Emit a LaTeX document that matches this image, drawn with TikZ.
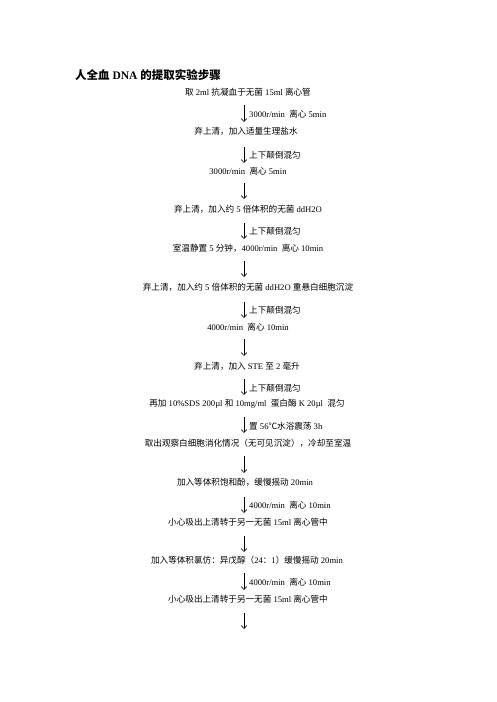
\documentclass[tikz,border=0pt]{standalone}
\usepackage{fontspec}
\setmainfont{Liberation Serif}
\newfontfamily\cjk{Noto Sans CJK SC}
\usetikzlibrary{arrows.meta}
\newcommand\zh[1]{{\cjk #1}}
\tikzset{
  stepnode/.style={inner sep=0pt, anchor=center, font=\fontsize{8.6}{10}\selectfont},
  lbl/.style={inner sep=0pt, anchor=west, font=\fontsize{8.6}{10}\selectfont},
  flow/.style={-{Straight Barb[length=3pt,width=5.5pt]}, line width=0.6pt},
  titlenode/.style={inner sep=0pt, anchor=west, font=\fontsize{11.5}{13}\selectfont\bfseries}
}
\begin{document}
\begin{tikzpicture}[x=1pt,y=1pt]
\useasboundingbox (0,0) rectangle (496,-702);
\fill[white] (0,0) rectangle (496,-702);
\node[titlenode] (title) at (75,-75) {\zh{\bfseries 人全血} DNA \zh{\bfseries 的提取实验步骤}};

\node[stepnode] (s1) at (248,-92) {\zh{取} 2ml \zh{抗凝血于无菌} 15ml \zh{离心管}};
\node[stepnode] (s2) at (246,-131) {\zh{弃上清，加入适量生理盐水}};
\node[stepnode] (s3) at (248,-171) {3000r/min\ \ \zh{离心} 5min};
\node[stepnode] (s4) at (248,-209) {\zh{弃上清，加入约} 5 \zh{倍体积的无菌} ddH2O};
\node[stepnode] (s5) at (248,-248) {\zh{室温静置} 5 \zh{分钟，}4000r/min\ \ \zh{离心} 10min};
\node[stepnode] (s6) at (248,-287) {\zh{弃上清，加入约} 5 \zh{倍体积的无菌} ddH2O \zh{重悬白细胞沉淀}};
\node[stepnode] (s7) at (248,-327) {4000r/min\ \ \zh{离心} 10min};
\node[stepnode] (s8) at (247,-366) {\zh{弃上清，加入} STE \zh{至} 2 \zh{毫升}};
\node[stepnode] (s9) at (247,-404) {\zh{再加} 10\%SDS 200µl \zh{和} 10mg/ml\ \ \zh{蛋白酶} K 20µl\ \ \zh{混匀}};
\node[stepnode] (s10) at (248,-443) {\zh{取出观察白细胞消化情况（无可见沉淀），冷却至室温}};
\node[stepnode] (s11) at (245,-482) {\zh{加入等体积饱和酚，缓慢摇动} 20min};
\node[stepnode] (s12) at (248,-522) {\zh{小心吸出上清转于另一无菌} 15ml \zh{离心管中}};
\node[stepnode] (s13) at (247,-560) {\zh{加入等体积氯仿：异戊醇（}24\zh{：}1\zh{）缓慢摇动} 20min};
\node[stepnode] (s14) at (248,-599) {\zh{小心吸出上清转于另一无菌} 15ml \zh{离心管中}};

% arrow end points
\coordinate (a1t) at (244,-105); \coordinate (a1b) at (244,-122);
\coordinate (a2t) at (244,-147); \coordinate (a2b) at (244,-163);
\coordinate (a3t) at (244,-183); \coordinate (a3b) at (244,-199);
\coordinate (a4t) at (244,-223); \coordinate (a4b) at (244,-239);
\coordinate (a5t) at (244,-261); \coordinate (a5b) at (244,-277);
\coordinate (a6t) at (244,-302); \coordinate (a6b) at (244,-318);
\coordinate (a7t) at (244,-339); \coordinate (a7b) at (244,-356);
\coordinate (a8t) at (244,-379); \coordinate (a8b) at (244,-395);
\coordinate (a9t) at (244,-417); \coordinate (a9b) at (244,-433);
\coordinate (a10t) at (244,-456); \coordinate (a10b) at (244,-473);
\coordinate (a11t) at (244,-497); \coordinate (a11b) at (244,-513);
\coordinate (a12t) at (244,-536); \coordinate (a12b) at (244,-552);
\coordinate (a13t) at (244,-573); \coordinate (a13b) at (244,-590);
\coordinate (a14t) at (244,-613); \coordinate (a14b) at (244,-629);

\foreach \i in {1,...,14} { \draw[flow] (a\i t) -- (a\i b); }

\node[lbl] (l1) at (249,-114) {3000r/min\ \ \zh{离心} 5min};
\node[lbl] (l2) at (249,-155) {\zh{上下颠倒混匀}};
\node[lbl] (l4) at (249,-231) {\zh{上下颠倒混匀}};
\node[lbl] (l6) at (249,-310) {\zh{上下颠倒混匀}};
\node[lbl] (l8) at (249,-388) {\zh{上下颠倒混匀}};
\node[lbl] (l9) at (249,-426) {\zh{置} 56\zh{℃水浴震荡} 3h};
\node[lbl] (l11) at (249,-505) {4000r/min\ \ \zh{离心} 10min};
\node[lbl] (l13) at (249,-582) {4000r/min\ \ \zh{离心} 10min};
\end{tikzpicture}
\end{document}
